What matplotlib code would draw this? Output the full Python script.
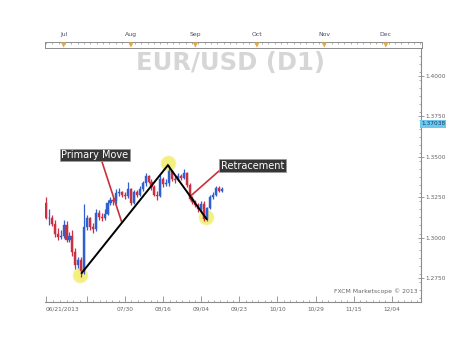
import matplotlib
matplotlib.use("Agg")
import matplotlib.pyplot as plt
from matplotlib.patches import Rectangle

# ---------------- data ----------------
opens = [1.3215, 1.3120, 1.3120, 1.3085, 1.3020, 1.3005, 1.3010, 1.3075, 1.2985, 1.3010,
         1.2910, 1.2830, 1.2860, 1.2795, 1.3065, 1.3120, 1.3065, 1.3055, 1.3150, 1.3130,
         1.3120, 1.3145, 1.3215, 1.3230, 1.3225, 1.3275, 1.3280, 1.3265, 1.3260, 1.3300,
         1.3215, 1.3280, 1.3265, 1.3300, 1.3340, 1.3380, 1.3345, 1.3315, 1.3265, 1.3255,
         1.3360, 1.3330, 1.3335, 1.3415, 1.3360, 1.3355, 1.3380, 1.3370, 1.3400, 1.3325,
         1.3240, 1.3220, 1.3200, 1.3175, 1.3210, 1.3115, 1.3185, 1.3250, 1.3265, 1.3305,
         1.3290]
closes = [1.3120, 1.3120, 1.3085, 1.3020, 1.3005, 1.3010, 1.3075, 1.2985, 1.3010, 1.2910,
          1.2830, 1.2860, 1.2795, 1.3065, 1.3120, 1.3065, 1.3055, 1.3150, 1.3130, 1.3120,
          1.3145, 1.3215, 1.3230, 1.3225, 1.3275, 1.3280, 1.3265, 1.3260, 1.3300, 1.3215,
          1.3280, 1.3265, 1.3300, 1.3340, 1.3380, 1.3345, 1.3315, 1.3265, 1.3255, 1.3360,
          1.3330, 1.3335, 1.3415, 1.3360, 1.3355, 1.3380, 1.3370, 1.3400, 1.3325, 1.3240,
          1.3220, 1.3200, 1.3175, 1.3210, 1.3115, 1.3185, 1.3250, 1.3265, 1.3305, 1.3290,
          1.3300]
highs = [1.3250, 1.3175, 1.3140, 1.3110, 1.3060, 1.3050, 1.3110, 1.3100, 1.3035, 1.3050,
         1.2935, 1.2880, 1.2880, 1.3205, 1.3140, 1.3130, 1.3090, 1.3175, 1.3170, 1.3150,
         1.3175, 1.3235, 1.3250, 1.3250, 1.3300, 1.3310, 1.3290, 1.3285, 1.3345, 1.3310,
         1.3295, 1.3295, 1.3320, 1.3350, 1.3400, 1.3390, 1.3360, 1.3325, 1.3290, 1.3385,
         1.3375, 1.3360, 1.3450, 1.3420, 1.3385, 1.3400, 1.3395, 1.3425, 1.3405, 1.3335,
         1.3260, 1.3235, 1.3215, 1.3225, 1.3225, 1.3190, 1.3265, 1.3280, 1.3320, 1.3320,
         1.3315]
lows = [1.3115, 1.3080, 1.3070, 1.3005, 1.2985, 1.2990, 1.2995, 1.2975, 1.2970, 1.2885,
        1.2805, 1.2810, 1.2755, 1.2775, 1.3050, 1.3045, 1.3030, 1.3040, 1.3110, 1.3100,
        1.3110, 1.3140, 1.3200, 1.3200, 1.3210, 1.3255, 1.3250, 1.3240, 1.3245, 1.3200,
        1.3205, 1.3250, 1.3255, 1.3290, 1.3320, 1.3335, 1.3295, 1.3255, 1.3230, 1.3250,
        1.3315, 1.3320, 1.3320, 1.3350, 1.3340, 1.3350, 1.3355, 1.3360, 1.3315, 1.3235,
        1.3210, 1.3190, 1.3160, 1.3165, 1.3105, 1.3105, 1.3180, 1.3240, 1.3255, 1.3280,
        1.3280]

date_tick_bars = [0, 14, 27, 40, 53, 66, 79, 92, 105, 118]
date_tick_labels = ["06/21/2013", "", "07/30", "08/16", "09/04", "09/23", "10/10",
                    "10/29", "11/15", "12/04"]
month_bars = [6, 29, 51, 72, 95, 116]
month_labels = ["Jul", "Aug", "Sep", "Oct", "Nov", "Dec"]
price_ticks = [1.2750, 1.3000, 1.3250, 1.3500, 1.3750, 1.4000]
current_price = 1.37038

# zig-zag swing points (bar, price)
swing_bars = [12.2, 41.6, 54.8]
swing_prices = [1.2781, 1.3448, 1.3115]
circle_bars = [11.7, 41.6, 54.7]
circle_prices = [1.2768, 1.3461, 1.3127]

# ---------------- figure ----------------
W, H = 474, 355
fig = plt.figure(figsize=(W / 100, H / 100), dpi=100)
fig.patch.set_facecolor("white")

XMIN, XMAX = -0.35, 128.0
YMIN, YMAX = 1.26015, 1.41795
axis_col = "#8c8c8c"
text_col = "#666666"

ax = fig.add_axes([45 / W, 1 - 302 / H, 376 / W, 255 / H])
ax.set_xlim(XMIN, XMAX)
ax.set_ylim(YMIN, YMAX)
ax.set_facecolor("white")
for s in ["top", "left"]:
    ax.spines[s].set_visible(False)
for s in ["bottom", "right"]:
    ax.spines[s].set_color(axis_col)
    ax.spines[s].set_linewidth(0.8)

# candles
red = "#cc2f3f"
blue = "#2f5fd0"
bw = 0.72
for i, (o, h, l, c) in enumerate(zip(opens, highs, lows, closes)):
    col = blue if c >= o else red
    ax.vlines(i, l, h, color=col, linewidth=0.9, zorder=3)
    ax.add_patch(Rectangle((i - bw / 2, min(o, c)), bw, max(abs(c - o), 0.0004),
                           facecolor=col, edgecolor=col, linewidth=0.3, zorder=4))

# yellow circles
ax.scatter(circle_bars, circle_prices, s=115, color="#f3ee6a", alpha=0.85,
           edgecolors="#f7f4a8", linewidths=0.6, zorder=2)

# zig-zag line
ax.plot(swing_bars, swing_prices, color="black", linewidth=1.4, zorder=6,
        solid_joinstyle="miter")

# annotation lines
ax.plot([18.8, 25.8], [1.3486, 1.3098], color="#c8323c", linewidth=1.2, zorder=5)
ax.plot([59.4, 49.7], [1.3418, 1.3263], color="#c8323c", linewidth=1.2, zorder=5)

box = dict(boxstyle="square,pad=0.15", facecolor="#363636", edgecolor="#9a9a9a",
           linewidth=0.6)
ax.text(16.6, 1.3511, "Primary Move", color="white", fontsize=7, ha="center",
        va="center", bbox=box, zorder=7)
ax.text(70.5, 1.3445, "Retracement", color="white", fontsize=7, ha="center",
        va="center", bbox=box, zorder=7)

# title watermark
fig.text(230 / W, 1 - 63 / H, "EUR/USD (D1)", fontsize=17.5, fontweight="bold",
         color="#d6d6d6", ha="center", va="center")

# x axis ticks
ax.set_xticks(date_tick_bars)
ax.set_xticklabels(date_tick_labels)
minor_x = []
for a, b in zip(date_tick_bars[:-1], date_tick_bars[1:]):
    n = 6
    minor_x += [a + (b - a) * k / n for k in range(1, n)]
minor_x += [118 + 13 * k / 6 for k in range(1, 5)]
ax.set_xticks(minor_x, minor=True)
ax.tick_params(axis="x", which="major", direction="in", length=4, width=0.6,
               color=axis_col, labelsize=4.2, labelcolor=text_col, pad=3)
ax.tick_params(axis="x", which="minor", direction="in", length=1.8, width=0.5,
               color=axis_col)
fig.canvas.draw()
ax.get_xticklabels()[0].set_ha("left")

# y axis ticks on right
ax.yaxis.tick_right()
ax.set_yticks(price_ticks)
ax.set_yticklabels([f"{p:.4f}" for p in price_ticks])
ax.set_yticks([1.2625 + 0.005 * k for k in range(32)], minor=True)
ax.tick_params(axis="y", which="major", direction="inout", length=4, width=0.6,
               color=axis_col, labelsize=4.2, labelcolor=text_col, pad=1)
ax.tick_params(axis="y", which="minor", direction="in", length=1.8, width=0.5,
               color=axis_col)

# current price tag
ax.text(1.0, current_price, f"{current_price:.5f}", transform=ax.get_yaxis_transform(),
        fontsize=4.2, color="#17405f", ha="left", va="center",
        bbox=dict(boxstyle="square,pad=0.2", facecolor="#6cc8ee", edgecolor="none"),
        zorder=8, clip_on=False)

# footer
ax.text(0.99, 0.03, "FXCM Marketscope \u00a9 2013", transform=ax.transAxes,
        fontsize=4.4, color=text_col, ha="right", va="bottom")

# top month strip
top = fig.add_axes([45 / W, 1 - 47.5 / H, 377 / W, 5.5 / H])
top.set_xlim(XMIN, XMAX + 0.35)
top.set_ylim(0, 1)
top.set_yticks([])
for s in top.spines.values():
    s.set_color(axis_col)
    s.set_linewidth(0.7)
top.set_xticks([k * 13 / 6 for k in range(int(XMAX / (13 / 6)) + 1)])
top.set_xticklabels([])
top.tick_params(axis="x", direction="in", length=1.6, width=0.5, color=axis_col,
                top=True, bottom=False)
top.scatter(month_bars, [0.45] * len(month_bars), marker="v", s=14, color="#e8a740",
            edgecolors="none", zorder=3, clip_on=False)
for b, lab in zip(month_bars, month_labels):
    top.text(b, 1.9, lab, fontsize=4.4, color="#4a4a6a", ha="center", va="bottom")

fig.savefig("out.png", dpi=100)
